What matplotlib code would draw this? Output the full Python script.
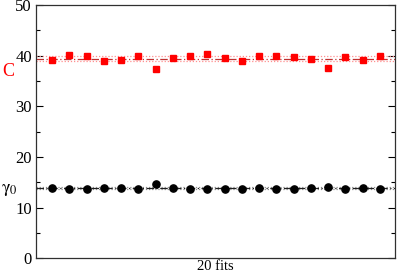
import matplotlib
matplotlib.use("Agg")
import matplotlib.pyplot as plt
import numpy as np

fits = list(range(1, 21))
c_values = [39.2, 40.1, 39.9, 38.9, 39.1, 40.0, 37.3, 39.6, 40.0, 40.4,
            39.5, 39.0, 39.9, 39.9, 39.7, 39.3, 37.6, 39.7, 39.1, 39.9]
gamma_values = [13.8, 13.7, 13.7, 13.9, 13.8, 13.7, 14.65, 13.8, 13.7, 13.7,
                13.7, 13.7, 13.9, 13.7, 13.7, 13.8, 14.0, 13.7, 13.8, 13.7]
c_mean, c_lo, c_hi = 39.4, 38.9, 39.9
g_mean, g_lo, g_hi = 13.85, 13.65, 14.05
yticks = [0, 10, 20, 30, 40, 50]

plt.rcParams['font.family'] = ['Liberation Serif', 'DejaVu Serif']
fig = plt.figure(figsize=(3.99, 2.73), dpi=100)
ax = fig.add_axes([0.0902, 0.054, 0.8998, 0.9277])

ax.axhline(c_hi, color='#ff9090', lw=0.9, ls=(0, (1, 1.5)))
ax.axhline(c_lo, color='#ff9090', lw=0.9, ls=(0, (1, 1.5)))
ax.axhline(c_mean, color='#c03030', lw=0.9, ls=(0, (6, 2, 1, 2)))
ax.axhline(g_hi, color='#909090', lw=0.9, ls=(0, (1, 1.5)))
ax.axhline(g_lo, color='#909090', lw=0.9, ls=(0, (1, 1.5)))
ax.axhline(g_mean, color='#202020', lw=0.9, ls=(0, (6, 2, 1, 2)))

ax.plot(fits, c_values, ls='none', marker='s', ms=4.5, color='#ff0000', mec='#ff0000')
ax.plot(fits, gamma_values, ls='none', marker='o', ms=5.2, color='black')

ax.set_xlim(0.07, 20.87)
ax.set_ylim(0, 50)
ax.set_yticks(yticks)
ax.set_yticks(np.arange(5, 50, 10), minor=True)
ax.set_xticks([])
ax.tick_params(axis='y', which='both', direction='in', right=True, labelsize=12, pad=3)
ax.tick_params(axis='y', which='major', length=5, width=0.8)
ax.tick_params(axis='y', which='minor', length=3, width=0.8)
for s in ax.spines.values():
    s.set_color('#303030')
    s.set_linewidth(0.9)

ax.set_xlabel('20 fits', fontsize=10.5, labelpad=1.5)
fig.text(8.5/399, 1 - 72/273, 'C', color='#ff0000', fontsize=13, ha='center', va='center')
fig.text(9/399, 1 - 189/273, r'$\mathrm{\gamma}_0$', color='black', fontsize=13, ha='center', va='center',
         math_fontfamily='stix')

fig.savefig('out.png', dpi=100)
